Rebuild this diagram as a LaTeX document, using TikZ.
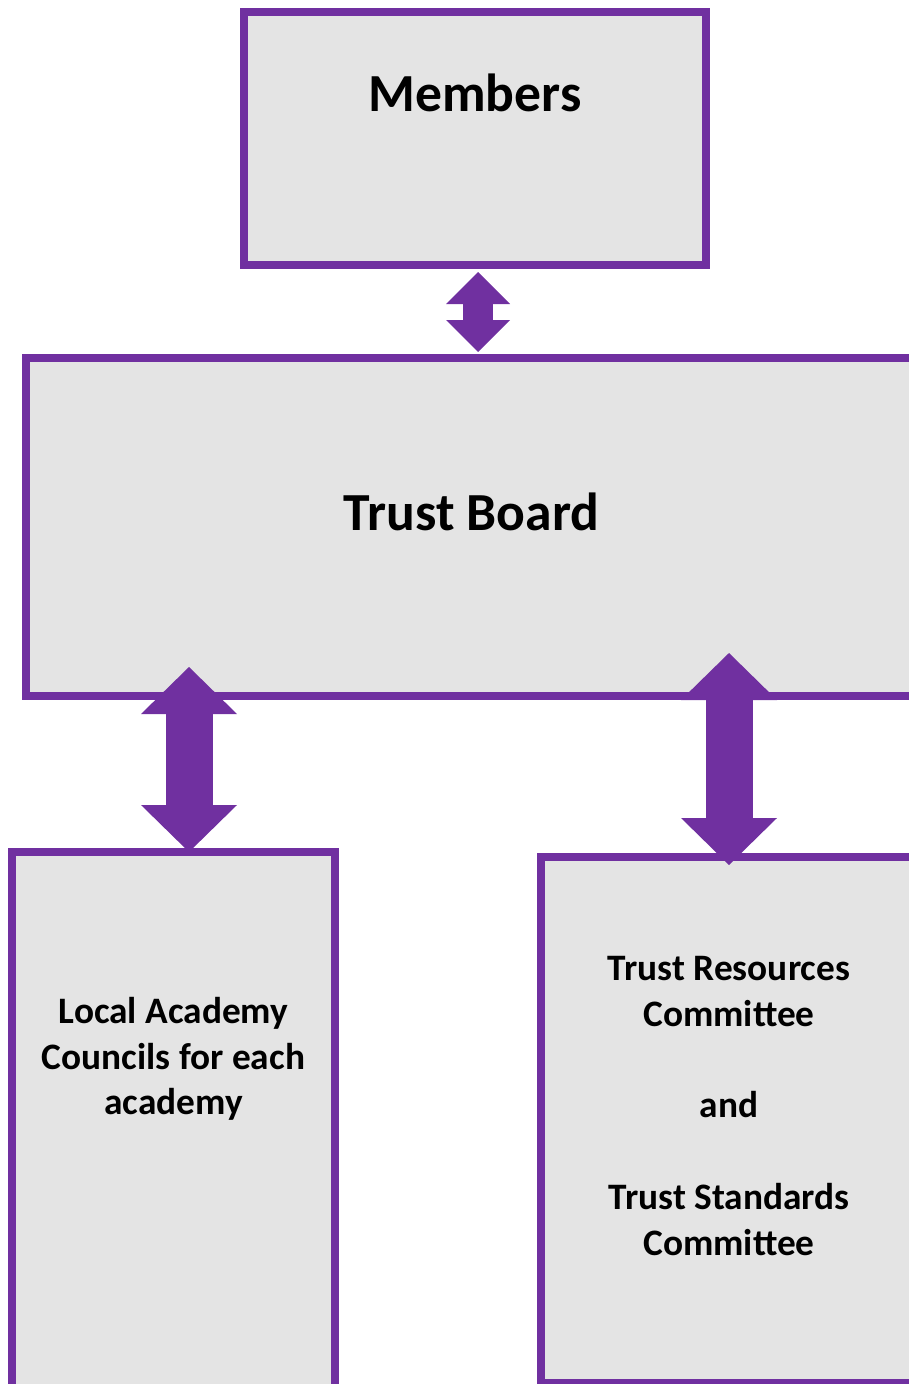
\documentclass[tikz,border=0pt]{standalone}
\usepackage{fontspec}
\setmainfont{Carlito}
\usetikzlibrary{arrows.meta,calc,fit}
\definecolor{govpurple}{RGB}{112,48,160}
\definecolor{boxgrey}{RGB}{228,228,228}

\begin{document}
\begin{tikzpicture}[x=0.75pt,y=-0.75pt]
\tikzstyle{panel}=[draw=govpurple,fill=boxgrey,line width=6pt,inner sep=0pt,outer sep=0pt];
\tikzstyle{heading}=[font=\bfseries\fontsize{40.2}{48}\selectfont,inner sep=0pt];
\tikzstyle{body}=[font=\bfseries\fontsize{28}{34.3}\selectfont,align=center,inner sep=0pt];
\tikzstyle{link}=[govpurple,line width=35.25pt,
  {Triangle[width=72pt,length=35.25pt,line width=0pt]}-{Triangle[width=72pt,length=35.25pt,line width=0pt]}];
\tikzstyle{smalllink}=[govpurple,line width=22.5pt,
  {Triangle[width=48pt,length=24pt,line width=0pt]}-{Triangle[width=48pt,length=24pt,line width=0pt]}];

\useasboundingbox (0,0) rectangle (909,1384);
\clip (0,0) rectangle (909,1384);

% boxes
\node[panel,fit={(244,12) (706,265)}] (members) {};
\node[panel,fit={(26,358) (917,696)}] (board) {};
\node[panel,fit={(12,852) (335,1400)}] (academy) {};
\node[panel,fit={(541,857) (917,1383)}] (committees) {};

% labels
\node[heading] (memberslabel) at ($(members.north)+(0,81)$) {Members};
\node[heading] (boardlabel) at ($(board.north)+(0,154)$) {Trust Board};
\node[body] (academylabel) at ($(academy.north)+(0,207)$)
  {Local Academy\\Councils for each\\academy};
\node[body] (committeeslabel) at ($(committees.north)+(0,249)$)
  {Trust Resources\\Committee\\[34.3pt]and\\[34.3pt]Trust Standards\\Committee};

% double arrows
\coordinate (smalltop) at ($(members.south)+(3,7)$);
\coordinate (smallbot) at ($(smalltop |- board.north)+(0,-6)$);
\draw[smalllink] (smalltop) -- (smallbot);

\coordinate (lefttop) at ($(academy.north |- board.south)+(15.5,-29)$);
\coordinate (leftbot) at ($(academy.north)+(15.5,0)$);
\draw[link] (lefttop) -- (leftbot);

\coordinate (righttop) at ($(committees.north |- board.south)+(0,-43)$);
\coordinate (rightbot) at ($(committees.north)+(0,8)$);
\draw[link] (righttop) -- (rightbot);
\end{tikzpicture}
\end{document}
